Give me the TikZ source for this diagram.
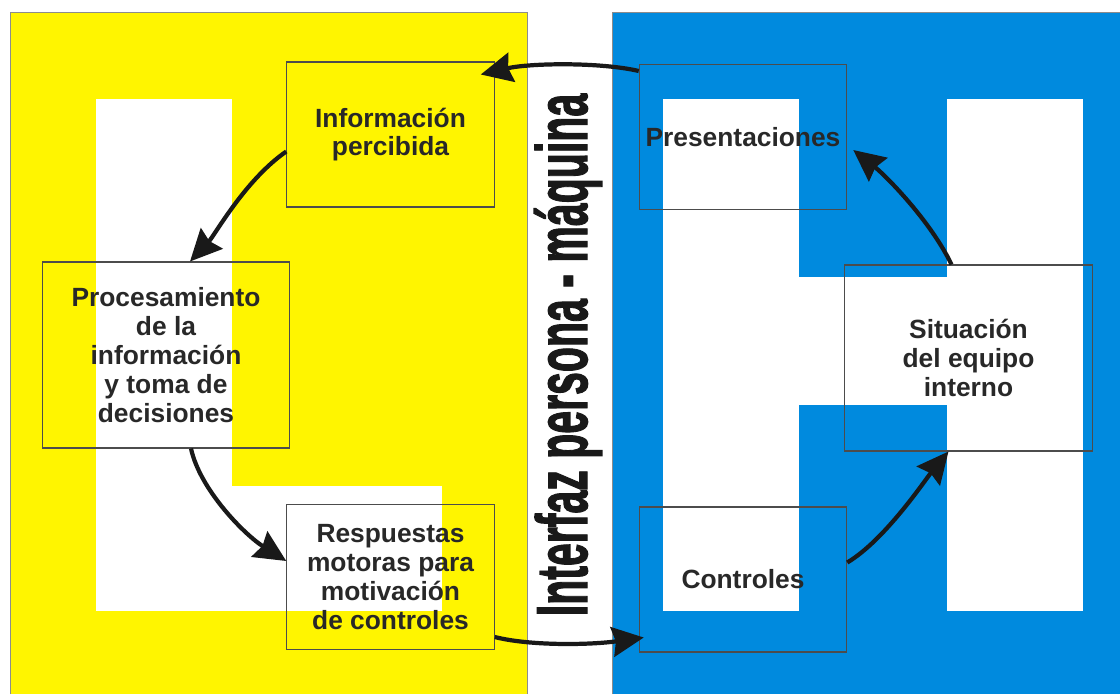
\documentclass[tikz,border=0pt]{standalone}
\usepackage{fontspec}
\setmainfont{Liberation Sans}
\newfontfamily\narrowbold{Liberation Sans}[BoldFeatures={FakeBold=2}]
\usepackage{tikz}
\usetikzlibrary{arrows.meta}
\definecolor{panelyellow}{RGB}{255,245,0}
\definecolor{panelblue}{RGB}{0,138,222}
\definecolor{inktext}{RGB}{40,40,40}

\begin{document}
\begin{tikzpicture}[x=0.02cm,y=-0.02cm,
    smallbox/.style={draw=black!70,line width=0.6pt,inner sep=0pt,minimum width=4.15cm,minimum height=2.9cm,
      align=center,text=inktext,font=\fontsize{15}{16.4}\selectfont\bfseries},
    bigbox/.style={smallbox,minimum width=4.95cm,minimum height=3.72cm},
    flow/.style={line width=2.4pt,black!90,-{Stealth[length=18pt,width=17pt,inset=2pt]}}]
  \useasboundingbox(0,0)rectangle(1120,694);
  % person side
  \fill[panelyellow](10,12)rectangle(527,694);
  \draw[black!45,line width=0.4pt](10,694)--(10,12)--(527,12)--(527,694);
  \fill[white](96,99)rectangle(232,611);
  \fill[white](96,486)rectangle(442,611);
  % machine side
  \fill[panelblue](612,12)rectangle(1120,694);
  \draw[black!45,line width=0.4pt](612,694)--(612,12)--(1120,12);
  \fill[white](663,99)rectangle(799,611);
  \fill[white](947,99)rectangle(1083,611);
  \fill[white](799,277)rectangle(947,405);
  % interface
  \node[rotate=90,anchor=base,inner sep=0pt,text=black!90,
    font=\narrowbold\bfseries\fontsize{41}{41}\selectfont](iface)at(587,355){\scalebox{0.57}[1]{Interfaz persona - máquina}};
  % boxes
  \node[smallbox](info)at(390.5,134.5){Información\\percibida};
  \node[bigbox](proc)at(166,355){Procesamiento\\de la\\información\\y toma de\\decisiones};
  \node[smallbox](resp)at(390.5,577){Respuestas\\motoras para\\motivación\\de controles};
  \node[smallbox](pres)at(743,137){Presentaciones};
  \node[smallbox](ctrl)at(743,579.5){Controles};
  \node[bigbox](sit)at(968.5,358){Situación\\del equipo\\interno};
  % loop
  \draw[flow]([shift={(0,7)}]pres.north west)..controls(600,62)and(530,63)..([shift={(-14,13)}]info.north east);
  \draw[flow]([shift={(0,17)}]info.west)..controls(245,180)and(215,235)..([shift={(24,0)}]proc.north);
  \draw[flow]([shift={(25,0)}]proc.south)..controls(200,490)and(245,535)..([shift={(0,-16)}]resp.west);
  \draw[flow]([shift={(0,60)}]resp.east)..controls(530,646)and(590,645)..([shift={(5,58)}]ctrl.west);
  \draw[flow]([shift={(0,-17)}]ctrl.east)..controls(885,540)and(925,480)..([shift={(-20,0)}]sit.south);
  \draw[flow]([shift={(-17,0)}]sit.north)..controls(930,220)and(885,175)..([shift={(6,13)}]pres.east);
\end{tikzpicture}
\end{document}
